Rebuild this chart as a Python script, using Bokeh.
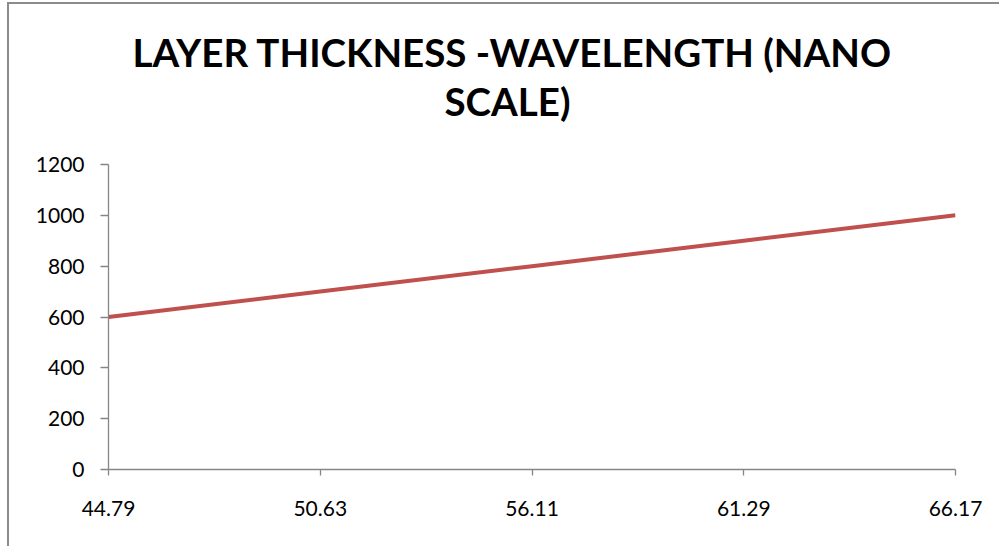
from bokeh.plotting import figure
from bokeh.models import Range1d, FixedTicker, Title
from bokeh.embed import file_html
from bokeh.resources import INLINE

# ---- data ----
categories = ["44.79", "50.63", "56.11", "61.29", "66.17"]
thickness = [600, 700, 800, 900, 1000]
y_ticks = [0, 200, 400, 600, 800, 1000, 1200]
title_line1 = "LAYER THICKNESS -WAVELENGTH (NANO"
title_line2 = "SCALE)"

x_pos = list(range(len(categories)))

AXIS_COLOR = "#868686"
LINE_COLOR = "#C0504D"

W, H = 992, 544
p = figure(width=W, height=H, output_backend="svg", toolbar_location=None,
           x_range=Range1d(0, len(categories) - 1), y_range=Range1d(y_ticks[0], y_ticks[-1]),
           min_border_left=99, min_border_right=46, min_border_top=160, min_border_bottom=79,
           margin=(2, 0, 0, 7))
p.styles = {"border-left": "2px solid #8c8c8c", "border-top": "2px solid #8c8c8c"}

p.line(x_pos, thickness, line_color=LINE_COLOR, line_width=4)

p.outline_line_color = None
p.grid.visible = False
p.background_fill_color = "white"
p.border_fill_color = "white"

# titles: first item added to "above" sits closest to the frame; p.title is outermost
spacer = Title(text=" ", text_font_size="1px", standoff=38)
p.add_layout(spacer, "above")
t2 = Title(text=title_line2, align="left", offset=336, text_font="Lato", text_font_size="38.5px",
           text_font_style="bold", text_color="black", standoff=0)
p.add_layout(t2, "above")
p.title.text = title_line1
p.title.align = "left"
p.title.offset = 24
p.title.text_font = "Lato"
p.title.text_font_size = "38.5px"
p.title.text_font_style = "bold"
p.title.text_color = "black"
p.title.standoff = 2

# axes
xa = p.xaxis[0]
xa.ticker = FixedTicker(ticks=x_pos)
xa.major_label_overrides = {i: c for i, c in zip(x_pos, categories)}
ya = p.yaxis[0]
ya.ticker = FixedTicker(ticks=y_ticks)
for ax in (xa, ya):
    ax.axis_line_color = AXIS_COLOR
    ax.axis_line_width = 1.3
    ax.major_tick_line_color = AXIS_COLOR
    ax.major_tick_line_width = 1.3
    ax.major_tick_in = 0
    ax.minor_tick_line_color = None
    ax.major_label_text_font = "Lato"
    ax.major_label_text_font_size = "21px"
    ax.major_label_text_color = "black"
xa.major_tick_out = 6
xa.major_label_standoff = 25
ya.major_tick_out = 8
ya.major_label_standoff = 16

open("out.html", "w").write(file_html(p, INLINE))
